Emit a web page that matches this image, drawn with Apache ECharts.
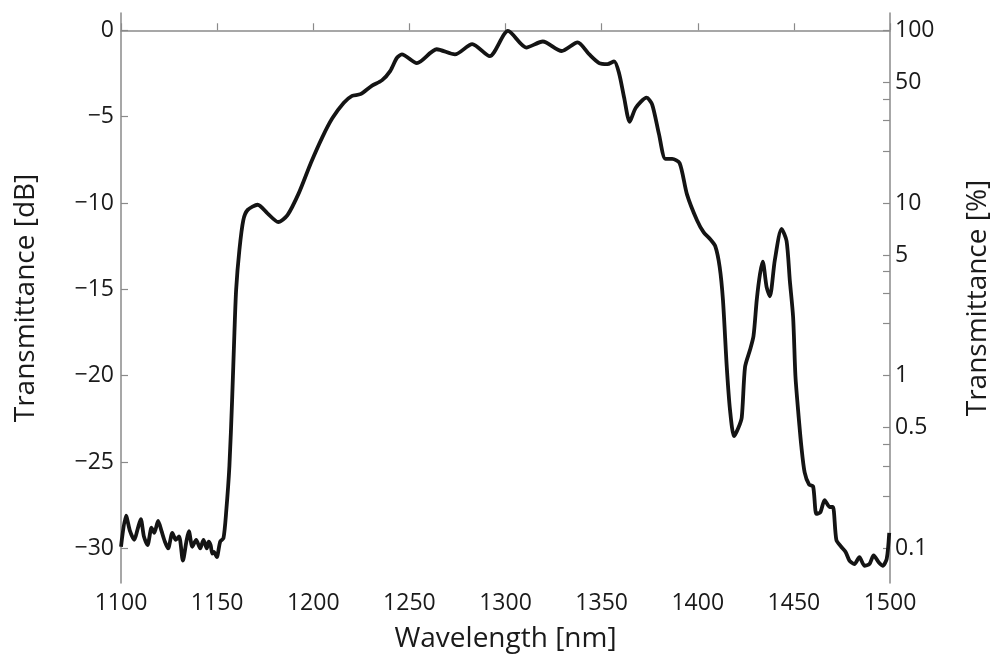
<!DOCTYPE html>
<html>
<head>
<meta charset="utf-8">
<script src="https://cdn.jsdelivr.net/npm/echarts@6/dist/echarts.min.js"></script>
<style>
html,body{margin:0;padding:0;background:#fff;}
#chart{width:1000px;height:664px;}
</style>
</head>
<body>
<div id="chart"></div>
<script>
// Wavelength [nm]
var wavelength = [1100, 1102.6, 1104.7, 1106.9, 1108.6, 1110.3, 1111.9, 1113.8, 1115.9, 1117.3, 1119.3, 1121.1, 1122.8, 1124.5, 1126.7, 1128.5, 1130.2, 1132.2, 1134, 1135.3, 1137.1, 1139.1, 1141.2, 1142.9, 1144.6, 1145.6, 1146.6, 1147.5, 1148.3, 1149.8, 1151.6, 1153.3, 1154.7, 1156.4, 1157.8, 1159, 1159.9, 1161.6, 1163.6, 1165.9, 1171.1, 1176.2, 1181.8, 1186.6, 1192.6, 1198.7, 1204.7, 1209.9, 1215.9, 1220.2, 1224.5, 1230.6, 1235.7, 1240.1, 1243.5, 1246.1, 1253.9, 1264.2, 1273.7, 1282.7, 1291.8, 1301.3, 1310.8, 1319.4, 1329.2, 1337.5, 1343.6, 1348.7, 1353, 1356.5, 1359.1, 1361.7, 1364.6, 1367.7, 1373.4, 1376.3, 1379.8, 1383.2, 1386.7, 1390.6, 1394.4, 1399.6, 1403.1, 1406.5, 1409.1, 1411.4, 1413.1, 1415.1, 1416.8, 1418.9, 1421.2, 1422.9, 1424.6, 1427.2, 1429, 1430.7, 1432.4, 1433.8, 1435.8, 1437.5, 1440.1, 1443.6, 1446.2, 1447.9, 1449.6, 1450.8, 1452.2, 1453.9, 1455.6, 1457.9, 1460, 1461.7, 1463.8, 1466, 1468.6, 1470.3, 1472.1, 1474.6, 1476.9, 1478.9, 1481.5, 1484.1, 1486.7, 1489.3, 1491.5, 1494.1, 1496.2, 1498.3, 1499.6];
// Transmittance [dB]
var transmittance = [-29.9, -28.1, -29.0, -29.5, -28.9, -28.3, -29.3, -29.8, -28.8, -29.1, -28.4, -29.0, -29.6, -30.0, -29.1, -29.5, -29.3, -30.7, -29.6, -29.0, -29.9, -29.5, -30.0, -29.5, -30.0, -29.6, -29.8, -30.3, -30.2, -30.5, -29.6, -29.4, -27.9, -25.2, -21.4, -17.5, -15.0, -12.7, -11.0, -10.4, -10.1, -10.6, -11.1, -10.7, -9.4, -7.7, -6.2, -5.1, -4.2, -3.8, -3.7, -3.2, -2.9, -2.35, -1.6, -1.4, -1.9, -1.1, -1.4, -0.8, -1.5, -0.04, -1.0, -0.65, -1.2, -0.7, -1.4, -1.9, -1.96, -1.8, -2.5, -3.9, -5.3, -4.5, -3.9, -4.3, -6.0, -7.45, -7.45, -7.7, -9.5, -11.0, -11.7, -12.1, -12.5, -13.7, -15.6, -19.5, -22.0, -23.5, -23.0, -22.4, -19.5, -18.5, -17.7, -15.6, -14.1, -13.4, -14.85, -15.4, -13.3, -11.5, -12.2, -14.5, -16.6, -20.0, -22.0, -24.1, -25.6, -26.3, -26.4, -28.0, -27.9, -27.2, -27.6, -27.6, -29.5, -29.9, -30.2, -30.7, -30.9, -30.5, -31.0, -30.9, -30.4, -30.8, -31.0, -30.6, -29.1];
// Tick labels
var xTicks = [1100, 1150, 1200, 1250, 1300, 1350, 1400, 1450, 1500];
var dbTicks = [0, -5, -10, -15, -20, -25, -30];
var pctLabels = [100, 50, 10, 5, 1, 0.5, 0.1];
var pctTicks = [100, 50, 40, 30, 20, 10, 5, 4, 3, 2, 1, 0.5, 0.4, 0.3, 0.2, 0.1];

function pctToDb(p){ return 10 * Math.log10(p / 100); }

var points = wavelength.map(function(w, i){ return [w, transmittance[i]]; });

var axisColor = '#8a8a8a';
var textColor = '#1a1a1a';
var fontFamily = '"Open Sans", "DejaVu Sans", sans-serif';
var tickFont = 23;
var nameFont = 28;

var chart = echarts.init(document.getElementById('chart'));
chart.setOption({
  animation: false,
  backgroundColor: '#fff',
  grid: { left: 121, right: 106, top: 13, bottom: 81, containLabel: false },
  xAxis: {
    type: 'value', min: 1100, max: 1500, interval: 50,
    name: 'Wavelength [nm]', nameLocation: 'middle', nameGap: 42,
    nameTextStyle: { fontSize: nameFont, color: textColor, fontFamily: fontFamily },
    axisLine: { show: true, lineStyle: { color: axisColor, width: 1.5 } },
    axisTick: { show: true, inside: true, length: 7, customValues: xTicks, lineStyle: { color: axisColor, width: 1.2 } },
    axisLabel: { fontSize: tickFont, color: textColor, fontFamily: fontFamily, margin: 9, customValues: xTicks,
      formatter: function(v){ return String(v); } },
    splitLine: { show: false }
  },
  yAxis: [{
    type: 'value', min: -32, max: 1, position: 'left',
    name: 'Transmittance [dB]', nameLocation: 'middle', nameGap: 81, nameRotate: 90,
    nameTextStyle: { fontSize: nameFont, color: textColor, fontFamily: fontFamily },
    axisLine: { show: true, lineStyle: { color: axisColor, width: 1.5 } },
    axisTick: { show: true, inside: true, length: 7, customValues: dbTicks, lineStyle: { color: axisColor, width: 1.2 } },
    axisLabel: { fontSize: tickFont, color: textColor, fontFamily: fontFamily, margin: 7, customValues: dbTicks,
      formatter: function(v){ return v < 0 ? '\u2212' + Math.abs(v) : String(v); } },
    splitLine: { show: false }
  }, {
    type: 'value', min: -32, max: 1, position: 'right',
    name: 'Transmittance [%]', nameLocation: 'middle', nameGap: 74, nameRotate: 90,
    nameTextStyle: { fontSize: nameFont, color: textColor, fontFamily: fontFamily },
    axisLine: { show: true, lineStyle: { color: axisColor, width: 1.5 } },
    axisTick: { show: true, inside: true, length: 7, customValues: pctTicks.map(pctToDb), lineStyle: { color: axisColor, width: 1.2 } },
    axisLabel: { fontSize: tickFont, color: textColor, fontFamily: fontFamily, margin: 5, customValues: pctLabels.map(pctToDb),
      formatter: function(v){
        var best = pctLabels[0], d = 1e9;
        pctLabels.forEach(function(p){ var dd = Math.abs(pctToDb(p) - v); if (dd < d){ d = dd; best = p; } });
        return String(best);
      } },
    splitLine: { show: false }
  }],
  series: [{
    type: 'line', data: points, yAxisIndex: 0, showSymbol: false, smooth: 0.25,
    lineStyle: { color: '#141414', width: 3.8 },
    clip: true
  }]
});
</script>
</body>
</html>
